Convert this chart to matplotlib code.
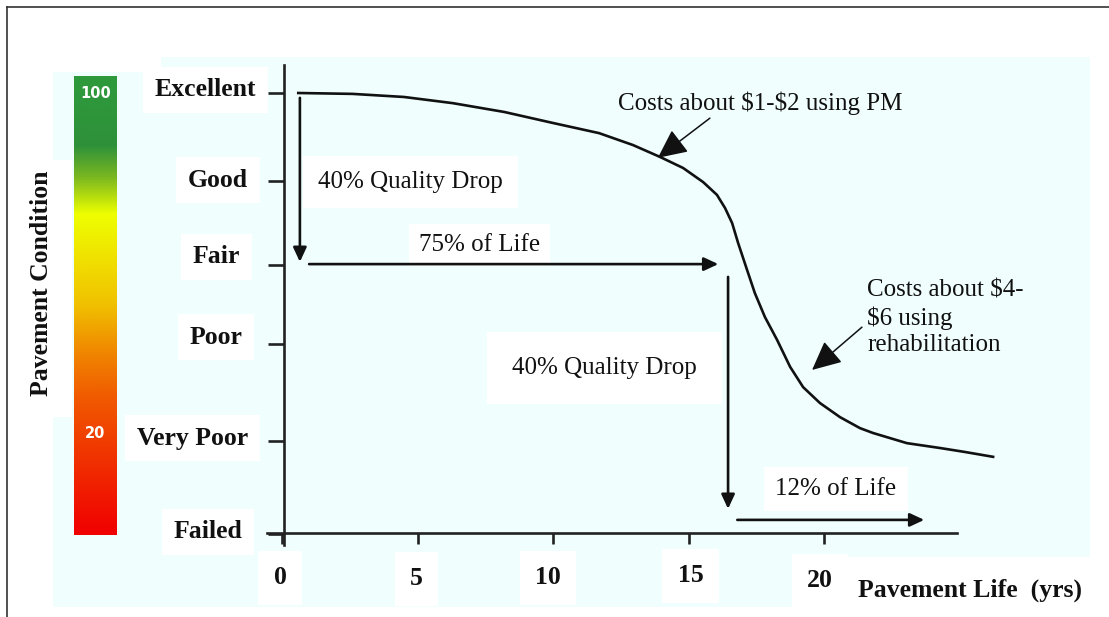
import numpy as np
import matplotlib
matplotlib.use('Agg')
import matplotlib.pyplot as plt
from matplotlib.colors import LinearSegmentedColormap
from matplotlib.patches import Polygon, Rectangle
from matplotlib.lines import Line2D

# pavement condition curve
years = [0.6, 2.6, 4.5, 6.3, 8.2, 10.0, 11.7, 12.95, 13.95, 14.8, 15.54, 16.05, 16.35,
         16.61, 16.83, 17.16, 17.45, 17.82, 18.27, 18.75, 19.23, 19.85, 20.59, 21.33,
         21.81, 23.06, 24.28, 25.2, 26.24]
condition = [100, 99.8, 99.1, 97.7, 95.7, 93.2, 90.9, 88.2, 85.5, 83.0, 79.8, 76.9, 73.9,
             70.5, 66.0, 59.9, 54.6, 49.2, 44.0, 37.9, 33.3, 29.7, 26.5, 24.0,
             22.9, 20.6, 19.5, 18.6, 17.5]

levels = ['Excellent', 'Good', 'Fair', 'Poor', 'Very Poor', 'Failed']
level_vals = [100, 80, 61, 43, 21, 0]
xticks = [0, 5, 10, 15, 20]

# arrows: (x0, y0, x1, y1)
drop1 = (0.66, 98.9, 0.66, 61.7)
life1 = (1.0, 61.2, 16.1, 61.2)
drop2 = (16.46, 58.3, 16.46, 5.7)
life2 = (16.8, 3.2, 23.7, 3.2)

W, H = 1109, 617
def fx(px): return px / W
def fy(py): return 1 - py / H

fig = plt.figure(figsize=(W / 100, H / 100), dpi=100)
fig.patch.set_facecolor('white')

# outer frame (top + left)
fig.add_artist(Line2D([fx(7), fx(7)], [fy(7), 0], color='#333333', lw=1.2))
fig.add_artist(Line2D([fx(7), 1], [fy(7), fy(7)], color='#333333', lw=1.2))

cyan = '#f0fefe'
pts = [(53, 72), (161, 72), (161, 57), (1090, 57), (1090, 557), (843, 557), (843, 607), (53, 607)]
fig.add_artist(Polygon([(fx(a), fy(b)) for a, b in pts], closed=True, facecolor=cyan,
                       edgecolor='none', transform=fig.transFigure, zorder=0))
fig.add_artist(Rectangle((fx(20), fy(417)), fx(72) - fx(20), fy(160) - fy(417),
                         facecolor='white', edgecolor='none', transform=fig.transFigure, zorder=0))

# main axes: x px = 282 + 27.1*x, y px = 534 - 4.41*y
xl, xr = -1, 27
yb, yt = -8, 110
px_l, px_r = 282 + 27.1 * xl, 282 + 27.1 * xr
py_b, py_t = 534 - 4.41 * yb, 534 - 4.41 * yt
ax = fig.add_axes([fx(px_l), fy(py_b), (px_r - px_l) / W, (py_b - py_t) / H])
ax.set_xlim(xl, xr)
ax.set_ylim(yb, yt)
ax.patch.set_alpha(0)
ax.spines['top'].set_visible(False)
ax.spines['right'].set_visible(False)
ax.spines['left'].set_position(('data', 0.07))
ax.spines['bottom'].set_position(('data', 0.2))
ax.spines['left'].set_bounds(-2.5, 106.3)
ax.spines['bottom'].set_bounds(-0.55, 24.9)
for s in ['left', 'bottom']:
    ax.spines[s].set_linewidth(1.9)
    ax.spines[s].set_color('#222222')
ax.set_yticks(level_vals)
ax.set_xticks(xticks)
ax.tick_params(axis='y', direction='out', length=11.5, width=1.9, color='#222222', labelleft=False)
ax.tick_params(axis='x', direction='out', length=8, width=1.9, color='#222222', labelbottom=False)

ax.plot(years, condition, color='#111111', lw=1.9, zorder=3, solid_joinstyle='round')

bold = dict(family='Liberation Serif', fontweight='bold', fontsize=18.5, color='#111111')
reg = dict(family='Liberation Serif', fontsize=18, color='#111111')
box = dict(boxstyle='square,pad=0.45', facecolor='white', edgecolor='none')

# y labels (offsets in pixels: right edge, vertical shift)
yoff = [(-26, 3), (-34, 1), (-42, 8), (-40, 7), (-34, 3), (-40, 2)]
for lab, v, (dx, dy) in zip(levels, level_vals, yoff):
    ax.annotate(lab, xy=(0, v), xytext=(dx * 0.72, dy * 0.72), textcoords='offset points',
                ha='right', va='center', bbox=box, **bold)

xoff = [(-2, -44), (-1, -45), (-5, -44), (2, -42), (-4, -47)]
for t, (dx, dy) in zip(xticks, xoff):
    ax.annotate(str(t), xy=(t, 0), xytext=(dx * 0.72, dy * 0.72), textcoords='offset points',
                ha='center', va='center', bbox=dict(boxstyle='square,pad=0.6', facecolor='white',
                                                     edgecolor='none'), **bold)

arrow_kw = dict(arrowstyle='-|>,head_length=0.86,head_width=0.4', color='#111111', lw=1.9,
                mutation_scale=10, shrinkA=0, shrinkB=0)
for a in [drop1, life1, drop2, life2]:
    ax.annotate('', xy=(a[2], a[3]), xytext=(a[0], a[1]), arrowprops=arrow_kw, zorder=4)

ax.text(1.33, 79.8, '40% Quality Drop', ha='left', va='center',
        bbox=dict(boxstyle='square,pad=0.6', facecolor='white', edgecolor='none'), **reg)
ax.text(7.3, 65.5, '75% of Life', ha='center', va='center',
        bbox=dict(boxstyle='square,pad=0.4', facecolor='white', edgecolor='none'), **reg)
ax.text(8.49, 37.6, '40% Quality Drop', ha='left', va='center',
        bbox=dict(boxstyle='square,pad=1.0', facecolor='white', edgecolor='none'), **reg)
ax.text(20.44, 10.2, '12% of Life', ha='center', va='center',
        bbox=dict(boxstyle='square,pad=0.45', facecolor='white', edgecolor='none'), **reg)

note_kw = dict(arrowstyle='-|>,head_length=0.9,head_width=0.43', color='#111111', lw=1.1,
               mutation_scale=20, shrinkA=0, shrinkB=0)
ax.text(12.4, 97.7, r'Costs about \$1-\$2 using PM', ha='left', va='center', **reg)
ax.annotate('', xy=(13.87, 85.3), xytext=(15.79, 94.3), arrowprops=note_kw, zorder=4)
ax.text(21.6, 57.6, 'Costs about \\$4-\n\\$6 using\nrehabilitation', ha='left', va='top',
        linespacing=1.25, **reg)
ax.annotate('', xy=(19.56, 37.2), xytext=(21.4, 46.9), arrowprops=note_kw, zorder=4)

# colour scale bar
cmap = LinearSegmentedColormap.from_list('pave', [
    (0.0, '#f00000'), (0.2, '#f03c00'), (0.3, '#f05a00'), (0.4, '#f08800'),
    (0.5, '#f0c000'), (0.6, '#f0e000'), (0.7, '#eeff00'), (0.78, '#7bb820'),
    (0.85, '#2e913a'), (1.0, '#2e9a3c')])
cax = fig.add_axes([fx(74), fy(535), (117 - 74) / W, (535 - 76) / H])
cax.imshow(np.linspace(0, 1, 256).reshape(-1, 1), cmap=cmap, origin='lower', aspect='auto',
           extent=[0, 1, -4, 104])
cax.set_xlim(0, 1)
cax.set_ylim(-4, 104)
cax.axis('off')
for v in [100, 20]:
    cax.text(0.5, v, str(v), ha='center', va='center', color='white', fontsize=10.5,
             fontweight='bold', family='DejaVu Sans')

fig.text(fx(42), fy(283), 'Pavement Condition', rotation=90, ha='center', va='center', **bold)
fig.text(fx(858), fy(590), 'Pavement Life  (yrs)', ha='left', va='center', **bold)

fig.savefig('out.png', dpi=100)
